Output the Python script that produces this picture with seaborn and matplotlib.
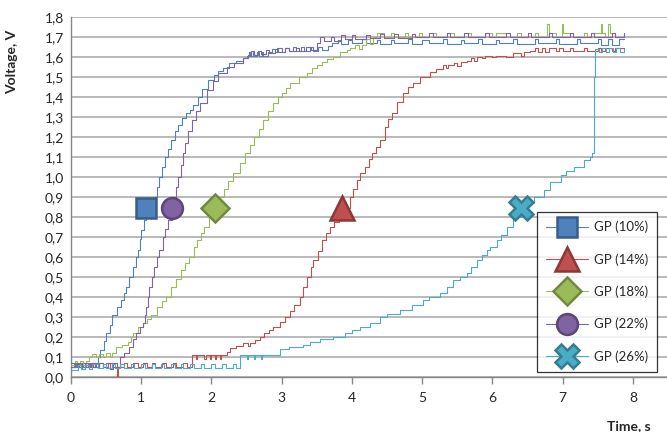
import seaborn as sns
import pandas as pd
import matplotlib.pyplot as plt
from matplotlib.lines import Line2D
from matplotlib.ticker import FuncFormatter

gp10 = [(0, 0.07), (0.04, 0.05), (0.07, 0.07), (0.1, 0.05), (0.14, 0.07), (0.17, 0.05), (0.21, 0.07),
        (0.24, 0.05), (0.28, 0.07), (0.31, 0.05), (0.34, 0.07),
        (0.38, 0.10), (0.42, 0.135), (0.47, 0.18), (0.50, 0.22), (0.55, 0.26), (0.59, 0.31), (0.65, 0.35),
        (0.71, 0.385), (0.75, 0.42), (0.78, 0.45), (0.82, 0.50), (0.88, 0.55), (0.92, 0.60), (0.95, 0.635),
        (0.98, 0.69), (1.00, 0.735), (1.04, 0.785), (1.07, 0.845), (1.13, 0.875), (1.20, 0.90), (1.23, 0.95),
        (1.26, 1.00), (1.29, 1.05), (1.34, 1.10), (1.38, 1.14), (1.43, 1.185), (1.48, 1.23), (1.53, 1.26),
        (1.58, 1.295), (1.64, 1.32), (1.70, 1.335), (1.74, 1.36), (1.81, 1.40), (1.86, 1.44), (1.95, 1.485),
        (2.03, 1.51), (2.10, 1.53), (2.17, 1.545), (2.25, 1.57), (2.35, 1.58), (2.45, 1.595),
        (2.50, 1.605), (2.53, 1.625), (2.55, 1.605), (2.59, 1.625), (2.61, 1.605), (2.65, 1.625), (2.67, 1.605),
        (2.72, 1.625), (2.74, 1.605), (2.80, 1.625), (2.86, 1.64), (2.9, 1.625), (2.93, 1.645), (3.0, 1.625),
        (3.04, 1.645), (3.1, 1.63), (3.16, 1.65), (3.2, 1.63), (3.28, 1.65), (3.32, 1.63), (3.4, 1.65),
        (3.45, 1.63), (3.52, 1.65), (3.58, 1.635), (3.66, 1.655), (3.72, 1.67), (3.8, 1.685), (3.85, 1.665),
        (3.95, 1.685), (4.0, 1.67), (4.15, 1.69), (4.2, 1.67), (4.35, 1.685), (4.4, 1.665), (4.55, 1.685),
        (4.6, 1.67), (4.8, 1.69), (4.85, 1.665), (5.0, 1.685), (5.1, 1.67), (5.3, 1.69), (5.35, 1.665),
        (5.55, 1.685), (5.6, 1.67), (5.8, 1.69), (5.85, 1.665), (6.05, 1.685), (6.1, 1.67), (6.3, 1.69),
        (6.35, 1.665), (6.6, 1.69), (6.65, 1.67), (6.9, 1.69), (6.95, 1.665), (7.2, 1.69), (7.25, 1.67),
        (7.5, 1.69), (7.55, 1.66), (7.65, 1.69), (7.7, 1.66), (7.8, 1.69), (7.88, 1.69)]

gp14 = [(0, 0.05), (0.06, 0.07), (0.1, 0.05), (0.16, 0.07), (0.2, 0.05), (0.27, 0.07), (0.32, 0.05),
        (0.4, 0.07), (0.45, 0.05), (0.52, 0.07), (0.58, 0.05), (0.65, -0.02), (0.67, 0.05), (0.75, 0.07),
        (0.8, 0.05), (0.88, 0.07), (0.95, 0.05), (1.02, 0.07), (1.08, 0.05), (1.15, 0.07), (1.2, 0.05),
        (1.3, 0.07), (1.35, 0.05), (1.45, 0.07), (1.5, 0.05), (1.6, 0.07), (1.65, 0.05),
        (1.72, 0.11), (1.78, 0.09), (1.80, 0.11), (1.9, 0.09), (1.92, 0.11), (1.98, 0.09), (2.0, 0.11),
        (2.05, 0.09), (2.07, 0.11), (2.12, 0.09), (2.14, 0.11), (2.22, 0.125), (2.27, 0.145), (2.35, 0.155),
        (2.45, 0.17), (2.52, 0.155), (2.55, 0.17), (2.62, 0.185), (2.69, 0.20), (2.75, 0.22), (2.82, 0.235),
        (2.88, 0.25), (2.98, 0.275), (3.05, 0.30), (3.12, 0.33), (3.18, 0.36), (3.26, 0.40), (3.31, 0.45),
        (3.36, 0.50), (3.41, 0.55), (3.45, 0.585), (3.51, 0.63), (3.57, 0.685), (3.63, 0.72), (3.69, 0.75),
        (3.75, 0.775), (3.81, 0.795), (3.86, 0.845), (3.97, 0.90), (4.02, 0.94), (4.07, 0.985), (4.12, 1.02),
        (4.19, 1.05), (4.24, 1.09), (4.28, 1.12), (4.34, 1.15), (4.40, 1.185), (4.47, 1.25), (4.52, 1.29),
        (4.57, 1.32), (4.64, 1.375), (4.73, 1.42), (4.80, 1.45), (4.87, 1.47), (4.97, 1.50), (5.11, 1.525),
        (5.2, 1.54), (5.30, 1.56), (5.34, 1.545), (5.37, 1.56), (5.45, 1.57), (5.5, 1.555), (5.55, 1.575),
        (5.64, 1.58), (5.7, 1.595), (5.74, 1.58), (5.78, 1.60), (5.85, 1.595), (5.9, 1.605), (6.0, 1.60),
        (6.05, 1.605), (6.2, 1.60), (6.3, 1.62), (6.4, 1.605), (6.45, 1.625), (6.54, 1.63), (6.6, 1.645),
        (6.65, 1.625), (6.7, 1.645), (6.75, 1.625), (6.8, 1.645), (6.9, 1.63), (6.95, 1.645), (7.0, 1.63),
        (7.1, 1.645), (7.15, 1.63), (7.3, 1.645), (7.35, 1.63), (7.5, 1.645), (7.55, 1.63), (7.6, 1.645),
        (7.7, 1.63), (7.75, 1.645), (7.88, 1.64)]

gp18 = [(0, 0.06), (0.05, 0.08), (0.08, 0.06), (0.13, 0.08), (0.17, 0.06), (0.22, 0.08),
        (0.26, 0.10), (0.30, 0.115), (0.36, 0.10), (0.40, 0.115), (0.45, 0.10), (0.5, 0.12), (0.55, 0.10),
        (0.58, 0.12), (0.64, 0.15), (0.72, 0.16), (0.81, 0.175), (0.85, 0.20), (0.88, 0.22), (0.95, 0.25),
        (1.02, 0.27), (1.08, 0.29), (1.14, 0.31), (1.23, 0.35), (1.30, 0.38), (1.35, 0.40), (1.42, 0.45),
        (1.50, 0.49), (1.57, 0.535), (1.63, 0.57), (1.68, 0.60), (1.75, 0.65), (1.80, 0.685), (1.85, 0.72),
        (1.90, 0.75), (1.97, 0.795), (2.05, 0.845), (2.12, 0.90), (2.18, 0.94), (2.24, 0.98), (2.31, 1.02),
        (2.40, 1.07), (2.48, 1.12), (2.55, 1.16), (2.60, 1.20), (2.67, 1.24), (2.74, 1.285), (2.81, 1.33),
        (2.88, 1.37), (2.95, 1.40), (3.0, 1.42), (3.06, 1.445), (3.12, 1.47), (3.24, 1.50), (3.36, 1.52),
        (3.43, 1.545), (3.50, 1.56), (3.57, 1.575), (3.64, 1.59), (3.73, 1.60), (3.83, 1.625), (3.93, 1.635),
        (3.97, 1.645), (4.05, 1.66), (4.1, 1.64), (4.15, 1.66), (4.2, 1.69), (4.25, 1.665), (4.3, 1.70),
        (4.35, 1.72), (4.45, 1.70), (4.55, 1.72), (4.6, 1.70), (4.75, 1.72), (4.8, 1.70), (4.95, 1.72),
        (5.0, 1.70), (5.15, 1.72), (5.2, 1.70), (5.4, 1.72), (5.45, 1.70), (5.65, 1.72), (5.7, 1.70),
        (5.9, 1.72), (6.0, 1.70), (6.05, 1.72), (6.2, 1.70), (6.35, 1.72), (6.4, 1.70), (6.6, 1.72),
        (6.65, 1.70), (6.78, 1.765), (6.8, 1.72), (6.9, 1.70), (6.99, 1.765), (7.01, 1.72), (7.1, 1.70),
        (7.3, 1.72), (7.35, 1.70), (7.45, 1.72), (7.54, 1.765), (7.56, 1.72), (7.6, 1.70), (7.65, 1.765),
        (7.67, 1.72), (7.75, 1.70), (7.88, 1.72)]

gp22 = [(0, 0.05), (0.05, 0.07), (0.08, 0.05), (0.12, 0.07), (0.16, 0.04), (0.2, 0.07), (0.25, 0.05),
        (0.3, 0.07), (0.35, 0.05), (0.4, 0.07), (0.45, 0.05), (0.5, 0.07), (0.55, 0.04), (0.6, 0.07),
        (0.65, 0.05), (0.70, 0.10), (0.76, 0.12), (0.83, 0.15), (0.88, 0.19), (0.93, 0.22), (0.98, 0.25),
        (1.02, 0.27), (1.05, 0.31), (1.07, 0.35), (1.09, 0.40), (1.11, 0.45), (1.15, 0.50), (1.18, 0.55),
        (1.22, 0.60), (1.25, 0.635), (1.31, 0.70), (1.34, 0.74), (1.38, 0.785), (1.44, 0.845), (1.46, 0.90),
        (1.50, 0.95), (1.53, 1.00), (1.56, 1.06), (1.59, 1.12), (1.62, 1.17), (1.67, 1.23), (1.72, 1.285),
        (1.78, 1.33), (1.84, 1.37), (1.93, 1.435), (2.02, 1.48), (2.10, 1.52), (2.22, 1.55), (2.32, 1.57),
        (2.45, 1.595), (2.52, 1.61), (2.56, 1.63), (2.6, 1.61), (2.66, 1.63), (2.7, 1.615), (2.78, 1.635),
        (2.82, 1.62), (2.9, 1.64), (2.95, 1.625), (3.05, 1.645), (3.1, 1.63), (3.2, 1.645), (3.25, 1.63),
        (3.35, 1.65), (3.42, 1.635), (3.5, 1.67), (3.55, 1.70), (3.6, 1.68), (3.7, 1.70), (3.75, 1.68),
        (3.85, 1.71), (3.9, 1.69), (4.0, 1.71), (4.05, 1.69), (4.2, 1.71), (4.25, 1.695), (4.4, 1.715),
        (4.45, 1.695), (4.6, 1.715), (4.65, 1.695), (4.85, 1.715), (4.9, 1.70), (5.1, 1.72), (5.15, 1.70),
        (5.35, 1.72), (5.4, 1.70), (5.6, 1.72), (5.65, 1.70), (5.9, 1.72), (5.95, 1.70), (6.2, 1.72),
        (6.25, 1.70), (6.5, 1.72), (6.55, 1.70), (6.8, 1.72), (6.85, 1.70), (7.1, 1.72), (7.15, 1.70),
        (7.4, 1.72), (7.45, 1.70), (7.7, 1.72), (7.75, 1.70), (7.88, 1.72)]

gp26 = [(0, 0.035), (0.1, 0.06), (0.14, 0.04), (0.2, 0.06), (0.25, 0.04), (0.3, 0.065), (0.38, 0.045),
        (0.45, 0.065), (0.5, 0.045), (0.58, 0.065), (0.62, 0.045), (0.7, 0.065), (0.76, 0.045), (0.85, 0.065),
        (0.9, 0.045), (1.0, 0.065), (1.05, 0.045), (1.15, 0.065), (1.2, 0.045), (1.28, 0.065), (1.33, 0.045),
        (1.42, 0.065), (1.48, 0.045), (1.56, 0.065), (1.6, 0.045), (1.7, 0.065), (1.75, 0.045), (1.85, 0.065),
        (1.9, 0.045), (2.0, 0.065), (2.05, 0.045), (2.15, 0.065), (2.2, 0.045), (2.3, 0.065), (2.35, 0.045),
        (2.41, 0.11), (2.5, 0.09), (2.52, 0.11), (2.6, 0.09), (2.62, 0.11), (2.7, 0.09), (2.72, 0.11),
        (2.98, 0.14), (3.1, 0.15), (3.3, 0.16), (3.4, 0.175), (3.55, 0.19), (3.73, 0.20), (3.9, 0.22),
        (4.0, 0.235), (4.12, 0.25), (4.25, 0.27), (4.40, 0.30), (4.5, 0.315), (4.69, 0.335), (4.85, 0.36),
        (5.01, 0.385), (5.1, 0.40), (5.26, 0.42), (5.35, 0.45), (5.44, 0.485), (5.54, 0.50), (5.64, 0.52),
        (5.70, 0.55), (5.78, 0.585), (5.85, 0.61), (5.92, 0.635), (5.97, 0.65), (6.06, 0.685), (6.12, 0.71),
        (6.21, 0.75), (6.30, 0.80), (6.41, 0.845), (6.5, 0.87), (6.59, 0.90), (6.73, 0.935), (6.82, 0.975),
        (6.97, 1.01), (7.05, 1.03), (7.16, 1.05), (7.30, 1.085), (7.39, 1.10), (7.42, 1.12), (7.44, 1.25),
        (7.45, 1.50), (7.46, 1.64), (7.52, 1.625), (7.56, 1.645), (7.62, 1.625), (7.66, 1.645), (7.72, 1.625),
        (7.76, 1.645), (7.82, 1.625), (7.88, 1.64)]

series_names = ["GP (10%)", "GP (14%)", "GP (18%)", "GP (22%)", "GP (26%)"]
series_data = [gp10, gp14, gp18, gp22, gp26]
# one highlighted point per trace, at the 0.85 V crossing
marker_t = [1.07, 3.86, 2.05, 1.44, 6.41]
marker_v = [0.845, 0.845, 0.845, 0.845, 0.845]

line_colors = ["#4F81BD", "#C0504D", "#9BBB59", "#8064A2", "#4BACC6"]
edge_colors = ["#385D8A", "#8C3836", "#71893F", "#5C4776", "#357D91"]
marker_shapes = ["s", "^", "D", "o", "X"]
marker_sizes = [15, 17, 14, 15, 17]

rows = []
for name, pts in zip(series_names, series_data):
    for t, v in pts:
        rows.append({"series": name, "t": t, "v": v})
df = pd.DataFrame(rows)

sns.set_theme(style="white")
plt.rcParams['font.family'] = ['Lato', 'DejaVu Sans']

fig = plt.figure(figsize=(6.67, 4.32), dpi=100)
ax = fig.add_axes([71 / 667, 55 / 432, 597 / 667, 360 / 432])

sns.lineplot(data=df, x="t", y="v", hue="series", palette=line_colors, hue_order=series_names,
             estimator=None, sort=False, drawstyle="steps-post", lw=0.8, legend=False, ax=ax, zorder=3)

for i in range(len(series_names)):
    ax.plot(marker_t[i], marker_v[i], marker=marker_shapes[i], ms=marker_sizes[i],
            mfc=line_colors[i], mec=edge_colors[i], mew=1.8, ls="none", zorder=5)

ax.set_xlim(0, 8.5)
ax.set_ylim(0, 1.8)
ax.set_xticks(range(0, 9))
ax.set_yticks([i / 10 for i in range(19)])
ax.yaxis.set_major_formatter(FuncFormatter(lambda v, p: f"{v:.1f}".replace(".", ",")))
ax.yaxis.grid(True, color="#A6A6A6", lw=1.1)
ax.set_axisbelow(True)
for s in ["top", "right"]:
    ax.spines[s].set_visible(False)
for s in ["left", "bottom"]:
    ax.spines[s].set_color("#868686")
    ax.spines[s].set_linewidth(1.0)
ax.tick_params(axis="x", length=5, width=1, color="#868686", labelsize=10, pad=6, bottom=True)
ax.tick_params(axis="y", length=0, labelsize=10, pad=5)

ax.set_xlabel("Time, s", fontweight="bold", fontsize=10)
ax.xaxis.set_label_coords(0.935, -0.12)
ax.set_ylabel("Voltage, V", fontweight="bold", fontsize=10)
ax.yaxis.set_label_coords(-0.088, 0.875)

handles = [Line2D([0], [0], color=line_colors[i], lw=0.8, marker=marker_shapes[i],
                  ms=marker_sizes[i], mfc=line_colors[i], mec=edge_colors[i], mew=1.8)
           for i in range(len(series_names))]
leg = ax.legend(handles, series_names, loc="lower right", bbox_to_anchor=(657 / 667, 60 / 432),
                bbox_transform=fig.transFigure, borderaxespad=0, fontsize=9.5, frameon=True,
                fancybox=False, edgecolor="black", handlelength=3.2, handletextpad=0.4,
                labelspacing=1.5, borderpad=0.7)
leg.get_frame().set_linewidth(0.9)
leg.set_zorder(6)

plt.savefig("out.png", dpi=100)
